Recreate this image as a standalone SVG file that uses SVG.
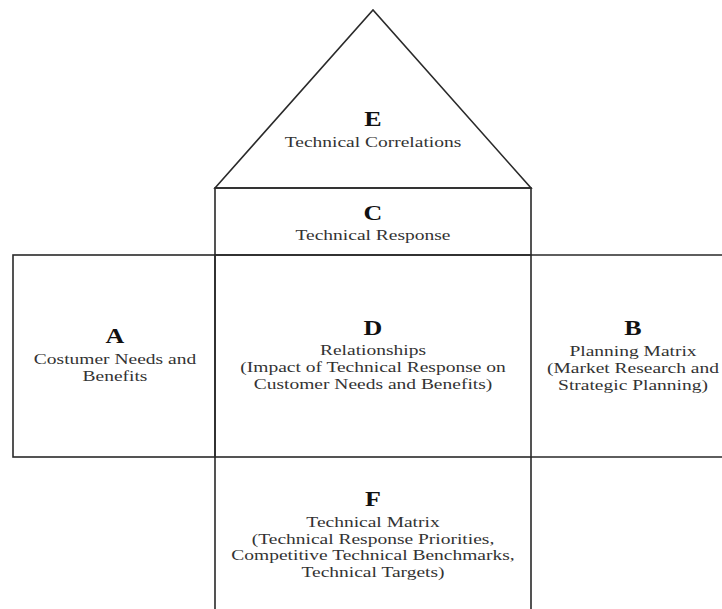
<svg xmlns="http://www.w3.org/2000/svg" width="722" height="609" viewBox="0 0 722 609">
<style>
.ln{fill:none;stroke:#2a2a2a;stroke-width:1.6}
.lt{font-family:"Liberation Serif","Times New Roman",serif;font-weight:bold;font-size:20px;fill:#111;text-anchor:middle}
.tx{font-family:"Liberation Serif","Times New Roman",serif;font-size:15px;fill:#333;text-anchor:middle}
</style>
<rect width="722" height="609" fill="#fff"/>
<g id="E">
<polygon class="ln" points="215,188 373,10 531,188"/>
<g transform="matrix(1.3,0,0,1,373,0)">
<text class="lt" x="0" y="126">E</text>
<text class="tx" x="0" y="147">Technical Correlations</text>
</g>
</g>
<g id="C">
<rect class="ln" x="215" y="188" width="316" height="67"/>
<g transform="matrix(1.3,0,0,1,373,0)">
<text class="lt" x="0" y="220">C</text>
<text class="tx" x="0" y="240">Technical Response</text>
</g>
</g>
<g id="A">
<rect class="ln" x="13" y="255" width="202" height="202"/>
<g transform="matrix(1.3,0,0,1,115,0)">
<text class="lt" x="0" y="343">A</text>
<text class="tx" x="0" y="364">Costumer Needs and</text>
<text class="tx" x="0" y="381">Benefits</text>
</g>
</g>
<g id="D">
<rect class="ln" x="215" y="255" width="316" height="202"/>
<g transform="matrix(1.3,0,0,1,373,0)">
<text class="lt" x="0" y="335">D</text>
<text class="tx" x="0" y="355">Relationships</text>
<text class="tx" x="0" y="372">(Impact of Technical Response on</text>
<text class="tx" x="0" y="389">Customer Needs and Benefits)</text>
</g>
</g>
<g id="B">
<path class="ln" d="M531,255 H722 M531,457 H722"/>
<g transform="matrix(1.3,0,0,1,633,0)">
<text class="lt" x="0" y="335">B</text>
<text class="tx" x="0" y="356">Planning Matrix</text>
<text class="tx" x="0" y="373">(Market Research and</text>
<text class="tx" x="0" y="390">Strategic Planning)</text>
</g>
</g>
<g id="F">
<path class="ln" d="M215,457 V609 M531,457 V609"/>
<g transform="matrix(1.3,0,0,1,373,0)">
<text class="lt" x="0" y="506">F</text>
<text class="tx" x="0" y="527">Technical Matrix</text>
<text class="tx" x="0" y="544">(Technical Response Priorities,</text>
<text class="tx" x="0" y="560">Competitive Technical Benchmarks,</text>
<text class="tx" x="0" y="577">Technical Targets)</text>
</g>
</g>
</svg>
